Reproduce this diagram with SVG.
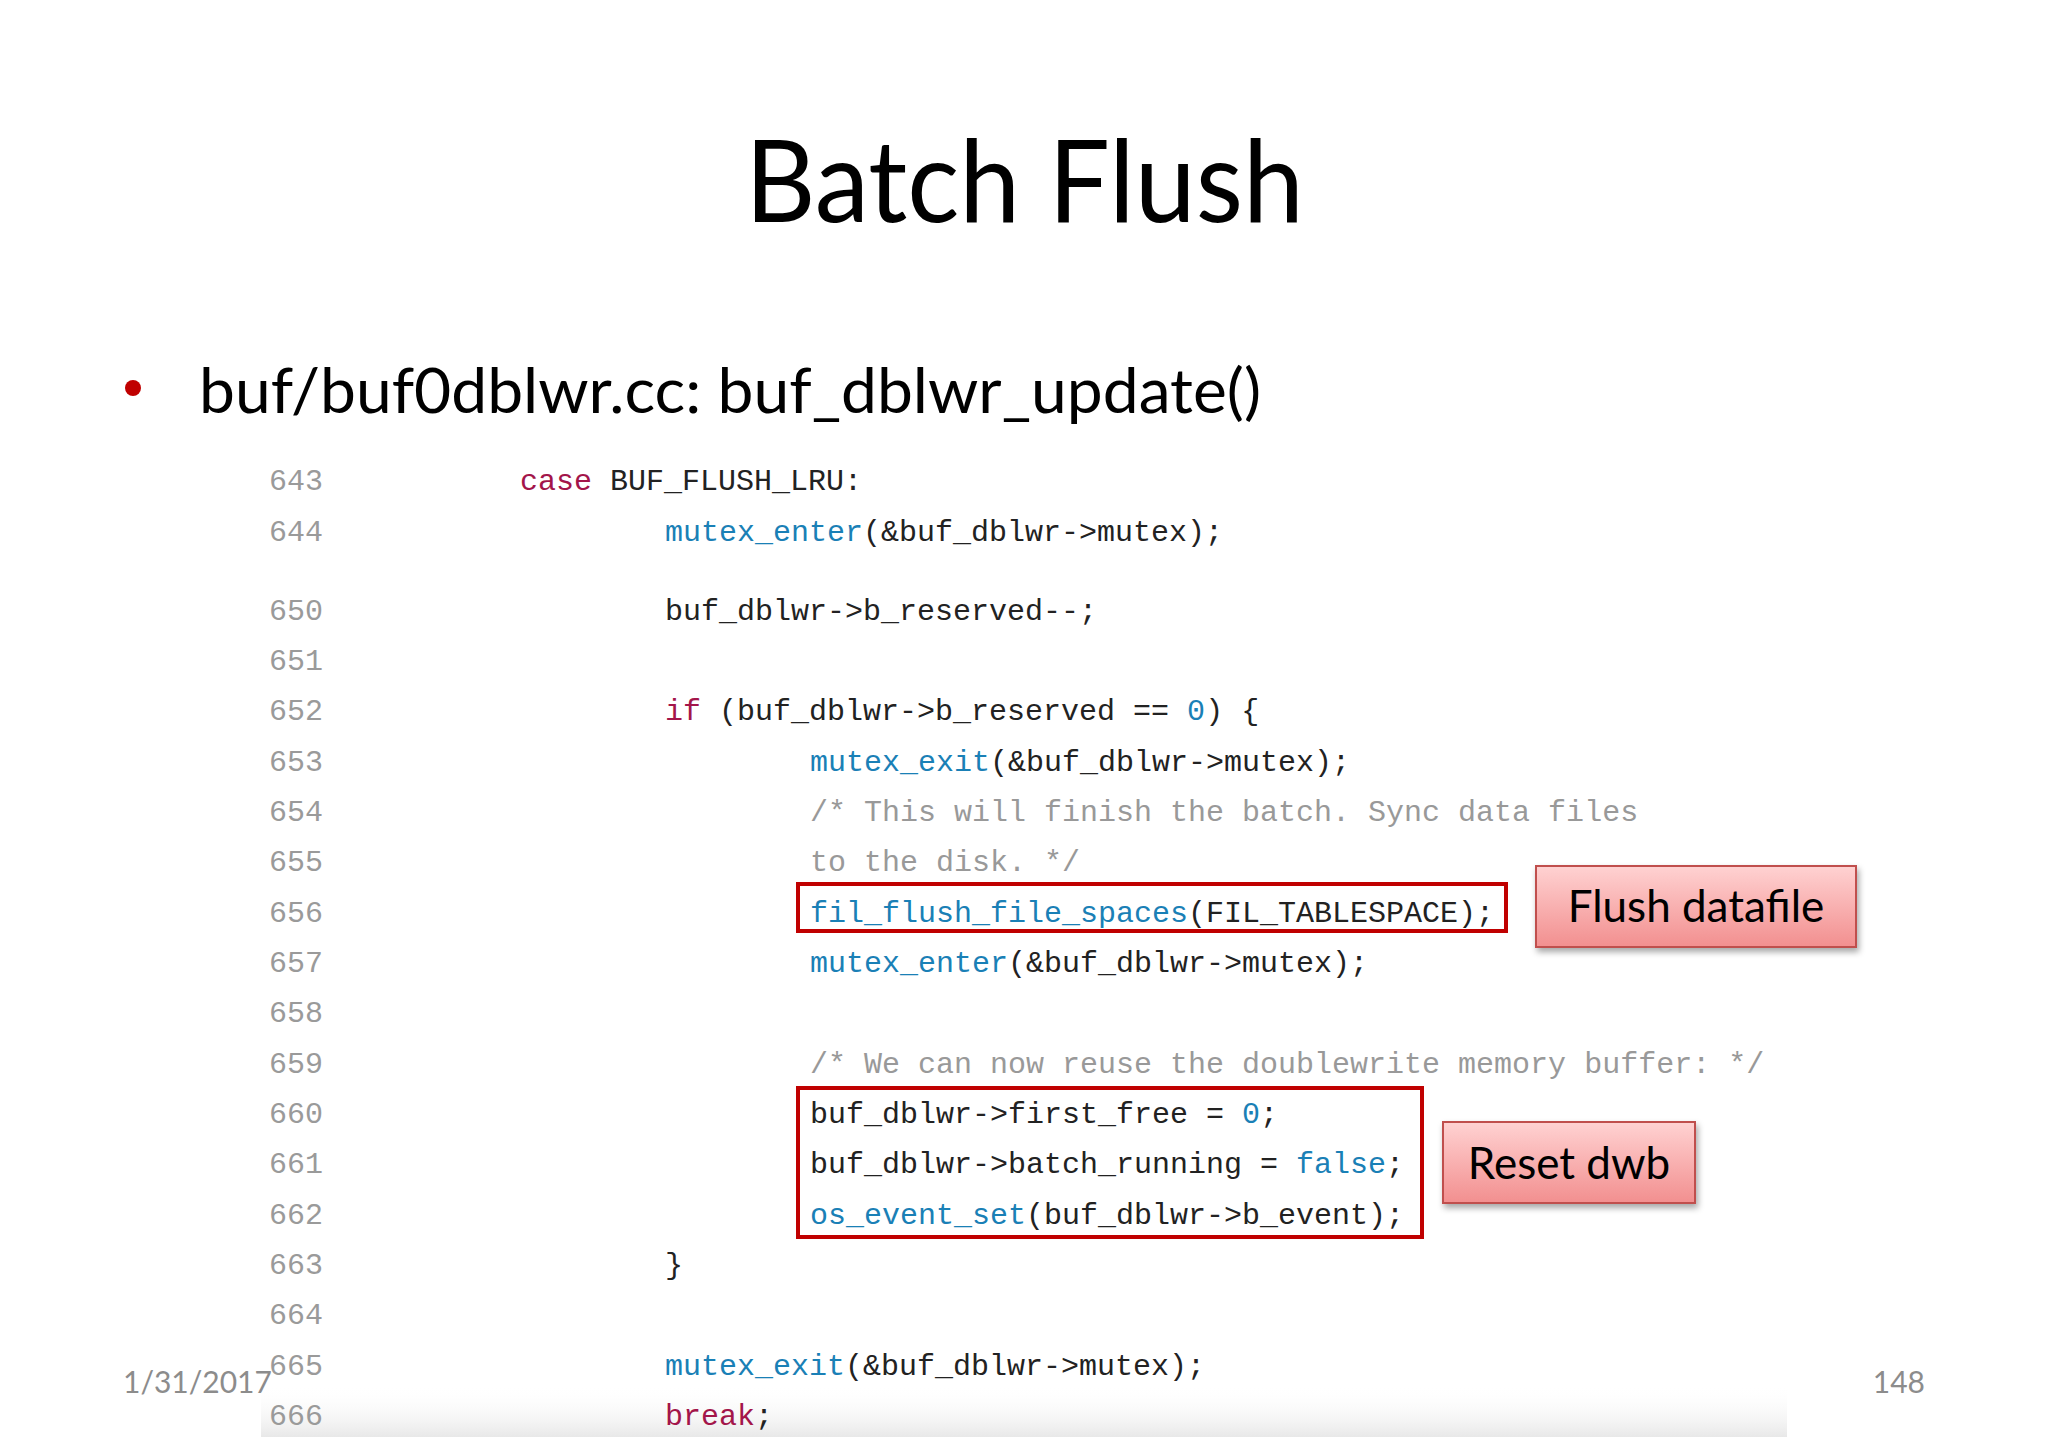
<svg xmlns="http://www.w3.org/2000/svg" width="2048" height="1448" viewBox="0 0 2048 1448">
<style>
.t{font-family:Lato,"Open Sans","Liberation Sans",sans-serif;fill:#000}
.n{font-family:"Liberation Mono",monospace;font-size:30px;fill:#9a9a9a;text-anchor:end}
.c{font-family:"Liberation Mono",monospace;font-size:30px;fill:#222}
.k{fill:#a3154a}.f{fill:#1a80b6}.m{fill:#999}
.hl{fill:none;stroke:#c00000;stroke-width:4}
.lb{fill:url(#pk);stroke:#c0504d;stroke-width:2;filter:url(#sh)}
.lt{font-family:Lato,"Open Sans","Liberation Sans",sans-serif;font-size:44px;text-anchor:middle;fill:#000}
.ft{font-family:Lato,"Open Sans","Liberation Sans",sans-serif;font-size:30px;fill:#8c8c8c}
</style>
<defs>
<linearGradient id="pk" x1="0" y1="0" x2="0" y2="1"><stop offset="0" stop-color="#ffd2d2"/><stop offset="1" stop-color="#f28f8f"/></linearGradient>
<linearGradient id="fd" x1="0" y1="0" x2="0" y2="1"><stop offset="0" stop-color="#fff" stop-opacity="0"/><stop offset="1" stop-color="#e8e8e8"/></linearGradient>
<filter id="sh" x="-10%" y="-10%" width="120%" height="130%"><feDropShadow dx="2" dy="4" stdDeviation="3" flood-opacity="0.35"/></filter>
</defs>
<rect width="2048" height="1448" fill="#fff"/>
<rect x="261" y="1385" width="1526" height="52" fill="url(#fd)"/>
<text class="t" x="745" y="222" font-size="114" textLength="559" lengthAdjust="spacingAndGlyphs">Batch Flush</text>
<circle cx="133" cy="388" r="8" fill="#c00000"/>
<text class="t" x="199" y="413" font-size="62" textLength="1062" lengthAdjust="spacingAndGlyphs">buf/buf0dblwr.cc: buf_dblwr_update()</text>
<g id="linenums">
<text class="n" x="323" y="490">643</text><text class="n" x="323" y="541">644</text>
<text class="n" x="323" y="620">650</text><text class="n" x="323" y="670">651</text>
<text class="n" x="323" y="720">652</text><text class="n" x="323" y="771">653</text>
<text class="n" x="323" y="821">654</text><text class="n" x="323" y="871">655</text>
<text class="n" x="323" y="922">656</text><text class="n" x="323" y="972">657</text>
<text class="n" x="323" y="1022">658</text><text class="n" x="323" y="1073">659</text>
<text class="n" x="323" y="1123">660</text><text class="n" x="323" y="1173">661</text>
<text class="n" x="323" y="1224">662</text><text class="n" x="323" y="1274">663</text>
<text class="n" x="323" y="1324">664</text><text class="n" x="323" y="1375">665</text>
<text class="n" x="323" y="1425">666</text>
</g>
<g id="code">
<text class="c" x="520" y="490"><tspan class="k">case</tspan> BUF_FLUSH_LRU:</text>
<text class="c" x="665" y="541"><tspan class="f">mutex_enter</tspan>(&amp;buf_dblwr-&gt;mutex);</text>
<text class="c" x="665" y="620">buf_dblwr-&gt;b_reserved--;</text>
<text class="c" x="665" y="720"><tspan class="k">if</tspan> (buf_dblwr-&gt;b_reserved == <tspan class="f">0</tspan>) {</text>
<text class="c" x="810" y="771"><tspan class="f">mutex_exit</tspan>(&amp;buf_dblwr-&gt;mutex);</text>
<text class="c m" x="810" y="821">/* This will finish the batch. Sync data files</text>
<text class="c m" x="810" y="871">to the disk. */</text>
<text class="c" x="810" y="922"><tspan class="f">fil_flush_file_spaces</tspan>(FIL_TABLESPACE);</text>
<text class="c" x="810" y="972"><tspan class="f">mutex_enter</tspan>(&amp;buf_dblwr-&gt;mutex);</text>
<text class="c m" x="810" y="1073">/* We can now reuse the doublewrite memory buffer: */</text>
<text class="c" x="810" y="1123">buf_dblwr-&gt;first_free = <tspan class="f">0</tspan>;</text>
<text class="c" x="810" y="1173">buf_dblwr-&gt;batch_running = <tspan class="f">false</tspan>;</text>
<text class="c" x="810" y="1224"><tspan class="f">os_event_set</tspan>(buf_dblwr-&gt;b_event);</text>
<text class="c" x="665" y="1274">}</text>
<text class="c" x="665" y="1375"><tspan class="f">mutex_exit</tspan>(&amp;buf_dblwr-&gt;mutex);</text>
<text class="c" x="665" y="1425"><tspan class="k">break</tspan>;</text>
</g>
<g id="highlights">
<rect class="hl" x="798" y="884" width="708" height="47"/>
<rect class="hl" x="798" y="1088" width="624" height="149"/>
</g>
<g id="flush-datafile">
<rect class="lb" x="1536" y="866" width="320" height="81"/>
<text class="lt" x="1696" y="922">Flush datafile</text>
</g>
<g id="reset-dwb">
<rect class="lb" x="1443" y="1122" width="252" height="81"/>
<text class="lt" x="1569" y="1179">Reset dwb</text>
</g>
<text class="ft" x="123" y="1393">1/31/2017</text>
<text class="ft" x="1925" y="1393" text-anchor="end">148</text>
</svg>
